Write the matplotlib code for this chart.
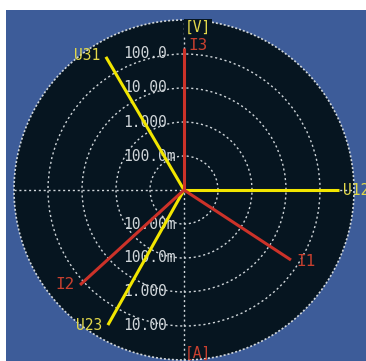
import numpy as np
import matplotlib
matplotlib.use("Agg")
import matplotlib.pyplot as plt
from matplotlib.patches import Circle

# vector data (radius in ring units, angle in degrees)
vec_names = ["U12", "U23", "U31", "I1", "I2", "I3"]
vec_mag = [4.56, 4.56, 4.54, 3.76, 4.14, 4.18]
vec_angle = [0, 240.6, 120.4, -33.2, 222.4, 90]
vec_kind = ["V", "V", "V", "A", "A", "A"]

# ring scale labels
volt_rings = ["100.0m", "1.000", "10.00", "100.0"]
amp_rings = ["10.00m", "100.0m", "1.000", "10.00"]
n_rings = 5

BLUE = "#3d5c99"
DARK = "#061520"
YEL = "#f2e600"
YEL_T = "#e2d84a"
RED = "#cc3229"
RED_T = "#c8402f"
GRID = "#d0d6da"

W, H = 366, 361
cx, cy, px = 184, 190, 34.0   # centre in pixels, pixels per ring

fig = plt.figure(figsize=(W / 100, H / 100), dpi=100, facecolor="white")
ax = fig.add_axes([6 / W, 0, (W - 6) / W, (H - 10) / H])
ax.set_facecolor(BLUE)
ax.set_xlim((6 - cx) / px, (W - cx) / px)
ax.set_ylim(-(H - cy) / px, (cy - 10) / px)
for s in ax.spines.values():
    s.set_visible(False)
ax.set_xticks([])
ax.set_yticks([])

ax.add_patch(Circle((0, 0), n_rings, facecolor=DARK, edgecolor="none", zorder=1))
ax.add_patch(Circle((0, 0), n_rings, facecolor="none", edgecolor=GRID, lw=1.2,
                    linestyle=(0, (1.2, 1.2)), zorder=2))
for r in range(1, n_rings):
    ax.add_patch(Circle((0, 0), r, facecolor="none", edgecolor=GRID, lw=1.0,
                        linestyle=(0, (1.5, 2.0)), zorder=2))
ax.plot([-n_rings, n_rings], [0, 0], color=GRID, lw=1.0, ls=(0, (1.5, 2.0)), zorder=2)
ax.plot([0, 0], [-n_rings, n_rings], color=GRID, lw=1.0, ls=(0, (1.5, 2.0)), zorder=2)

font = dict(family="DejaVu Sans Mono", fontsize=10.5)
lx = (123 - cx) / px
for i, lab in enumerate(volt_rings):
    ax.text(lx, i + 1, lab, color=GRID, ha="left", va="center", zorder=4, **font)
for i, lab in enumerate(amp_rings):
    ax.text(lx, -(i + 1), lab, color=GRID, ha="left", va="center", zorder=4, **font)

# label offsets in points from vector tip
offsets = {"U12": (3, 0, "left"), "U23": (-4, 0, "right"), "U31": (-4, 1, "right"),
           "I1": (4, -1, "left"), "I2": (-4, 0, "right"), "I3": (3, 2, "left")}
for name, m, a, k in zip(vec_names, vec_mag, vec_angle, vec_kind):
    x = m * np.cos(np.radians(a))
    y = m * np.sin(np.radians(a))
    col = YEL if k == "V" else RED
    ax.plot([0, x], [0, y], color=col, lw=2.2, zorder=5 if k == "V" else 6,
            solid_capstyle="butt")
    dx, dy, ha = offsets[name]
    size = 11.5 if k == "A" else 10.5
    ax.annotate(name, (x, y), xytext=(dx, dy), textcoords="offset points",
                color=YEL_T if k == "V" else RED_T, ha=ha, va="center",
                zorder=7, annotation_clip=False, family="DejaVu Sans Mono",
                fontsize=size)

ax.text(0.03, (cy - 27) / px, "[V]", color=YEL_T, ha="left", va="center", zorder=7,
        bbox=dict(facecolor=DARK, edgecolor="none", pad=0.5), **font)
ax.text(0.03, -(353 - cy) / px, "[A]", color=RED_T, ha="left", va="center", zorder=7,
        **font)

fig.savefig("out.png", dpi=100, facecolor="white")
